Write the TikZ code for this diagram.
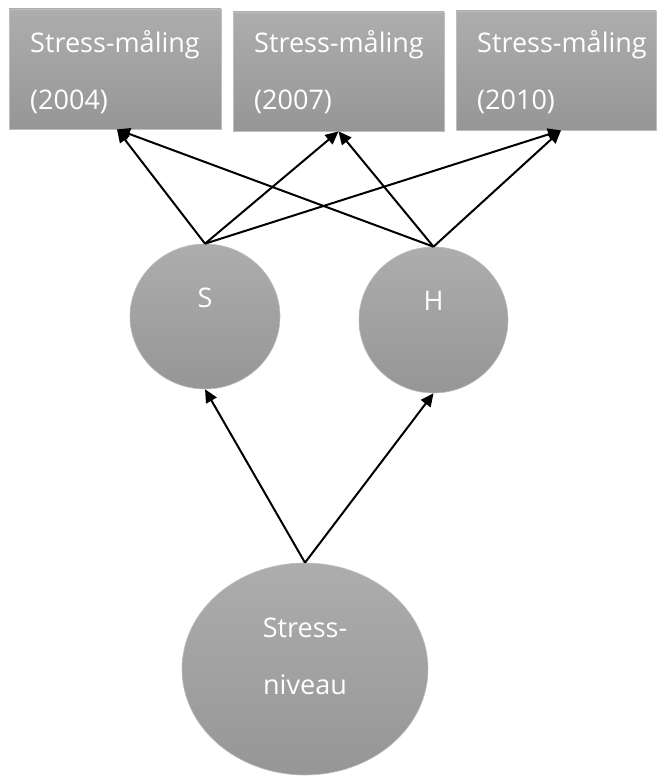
\documentclass[tikz,border=0pt]{standalone}
\usepackage{fontspec}
\setmainfont{Open Sans}
\usetikzlibrary{shapes.geometric,arrows.meta}
\definecolor{gtop}{RGB}{173,173,173}
\definecolor{gbot}{RGB}{150,150,150}
\definecolor{gedge}{RGB}{190,190,190}
\tikzset{
  shade box/.style={rectangle, top color=gtop, bottom color=gbot, draw=gedge, line width=0.8pt, inner sep=0pt},
  shade oval/.style={ellipse, top color=gtop, bottom color=gbot, draw=gedge, line width=0.6pt, inner sep=0pt},
  lbl/.style={text=white, inner sep=0pt, font=\fontsize{27}{30}\selectfont},
  arr/.style={-{Triangle[length=13pt,width=12pt]}, line width=2pt, black},
}
\begin{document}
\begin{tikzpicture}[x=1pt,y=1pt]
\useasboundingbox (0,0) rectangle (662,780);
% boxes
\node[shade box, minimum width=212, minimum height=120] (b1) at (115,711) {};
\node[shade box, minimum width=211, minimum height=119] (b2) at (338.5,708.5) {};
\node[shade box, minimum width=200, minimum height=119] (b3) at (556,709.5) {};
\node[lbl, anchor=base west] (t1a) at (30,727) {Stress-måling};
\node[lbl, anchor=base west] (t1b) at (30,670) {(2004)};
\node[lbl, anchor=base west] (t2a) at (254,727) {Stress-måling};
\node[lbl, anchor=base west] (t2b) at (254,670) {(2007)};
\node[lbl, anchor=base west] (t3a) at (477,727) {Stress-måling};
\node[lbl, anchor=base west] (t3b) at (477,670) {(2010)};
% ovals
\node[shade oval, minimum width=150, minimum height=145] (s) at (205,463.5) {};
\node[shade oval, minimum width=149, minimum height=146] (h) at (433.5,460) {};
\node[shade oval, minimum width=246, minimum height=212] (n) at (305,111) {};
\node[lbl, anchor=base] (ts) at (205,472) {S};
\node[lbl, anchor=base] (th) at (433.5,469) {H};
\node[lbl, anchor=base] (tn1) at (305,142) {Stress-};
\node[lbl, anchor=base] (tn2) at (305,85) {niveau};
% connectors
\draw[arr] (s.north) -- ([xshift=2]b1.south);
\draw[arr] (s.north) -- (b2.south);
\draw[arr] (s.north) -- ([xshift=5]b3.south);
\draw[arr] (h.north) -- ([xshift=2]b1.south);
\draw[arr] (h.north) -- (b2.south);
\draw[arr] (h.north) -- ([xshift=5]b3.south);
\draw[arr] (n.north) -- (s.south);
\draw[arr] (n.north) -- (h.south);
\end{tikzpicture}
\end{document}
